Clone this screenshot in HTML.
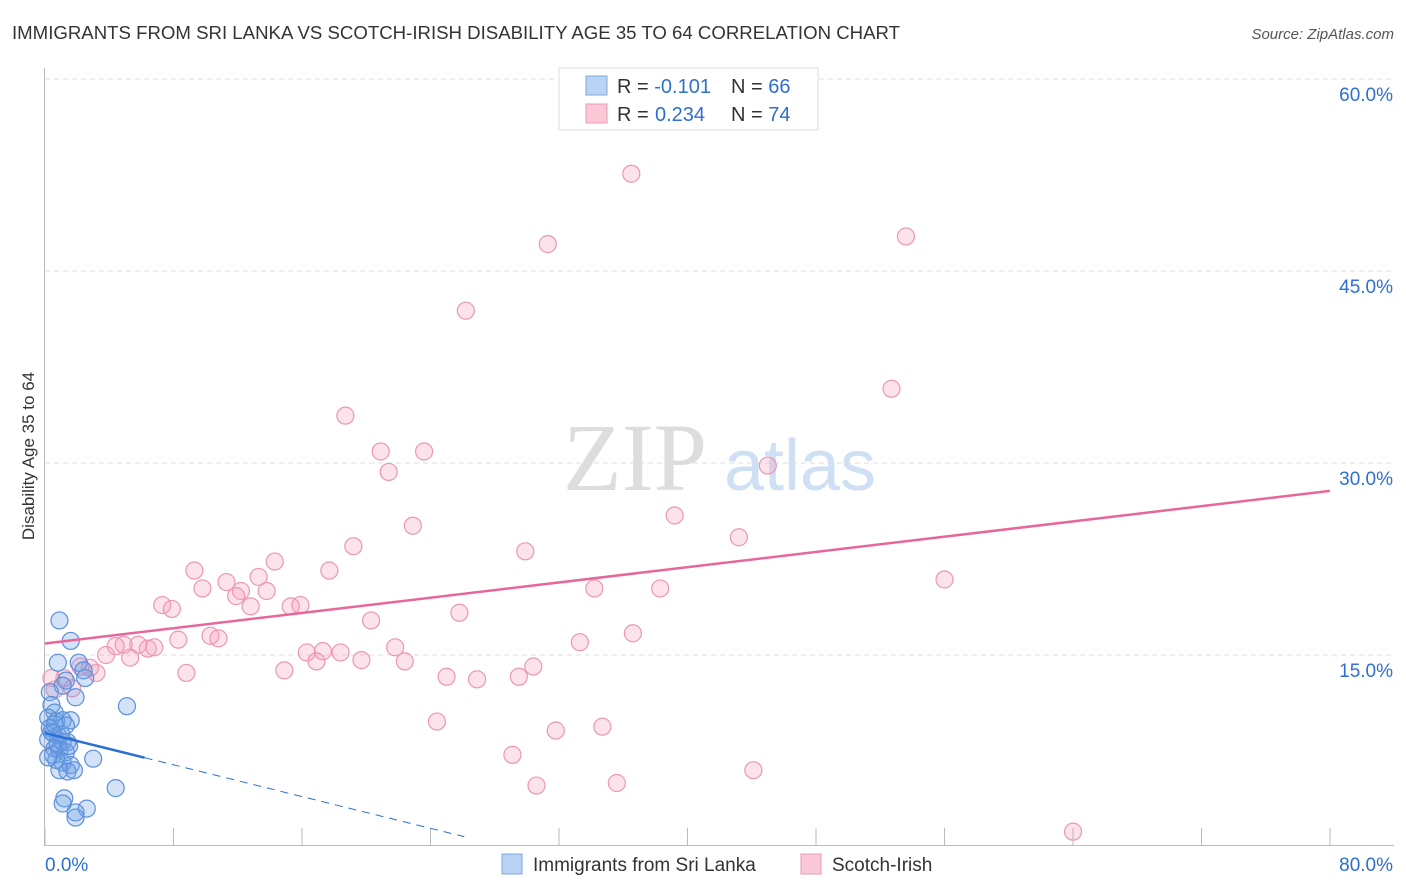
<!DOCTYPE html>
<html><head><meta charset="utf-8"><style>
body{margin:0;background:#fff;font-family:"Liberation Sans",sans-serif}
svg{display:block}
</style></head><body>
<svg id="c" width="1406" height="892" xmlns="http://www.w3.org/2000/svg">
<text x="12" y="39" font-size="18" fill="#333" textLength="888" lengthAdjust="spacingAndGlyphs">IMMIGRANTS FROM SRI LANKA VS SCOTCH-IRISH DISABILITY AGE 35 TO 64 CORRELATION CHART</text>
<text x="1394" y="39" font-size="15" fill="#555" text-anchor="end" font-style="italic">Source: ZipAtlas.com</text>
<text x="34" y="456" font-size="17" fill="#333" text-anchor="middle" transform="rotate(-90 34 456)">Disability Age 35 to 64</text>
<g><text x="635" y="490" font-size="96" fill="#ddd" font-family="Liberation Serif,serif" text-anchor="middle">ZIP</text><text x="800" y="490" font-size="72" fill="#cfe0f5" text-anchor="middle">atlas</text></g>
<g id="grid"></g><g id="axes"></g><g id="pts"></g><g id="lines"></g>
<g>
<rect x="559" y="68" width="259" height="62" fill="#fff" stroke="#ddd"/>
<rect x="586" y="76" width="21" height="19" fill="#b9d3f5" stroke="#7ea7e0"/>
<rect x="586" y="104" width="21" height="19" fill="#fac8d7" stroke="#ee9ab5"/>
<text x="617" y="93" font-size="20" fill="#333">R = <tspan fill="#2f6fd0">-0.101</tspan><tspan x="731">N = </tspan><tspan fill="#2f6fd0">66</tspan></text>
<text x="617" y="121" font-size="20" fill="#333">R = <tspan x="655" fill="#2f6fd0">0.234</tspan><tspan x="731">N = </tspan><tspan fill="#2f6fd0">74</tspan></text>
</g>
<g>
<rect x="502" y="854" width="20" height="20" fill="#b9d3f5" stroke="#7ea7e0"/>
<text x="533" y="871" font-size="19" fill="#333">Immigrants from Sri Lanka</text>
<rect x="801" y="854" width="20" height="20" fill="#fac8d7" stroke="#ee9ab5"/>
<text x="832" y="871" font-size="19" fill="#333">Scotch-Irish</text>
</g>
</svg>
<script>
const yTicks=[15,30,45,60];
const yTickLabels=["15.0%","30.0%","45.0%","60.0%"];
const xTicks=[0,8,16,24,32,40,48,56,64,72,80];
const xEndLabels=["0.0%","80.0%"];
const blueX=[0.9,1.6,0.8,2.1,2.4,2.5,1.3,1.1,1.9,5.1,0.3,0.4,0.6,0.2,0.7,1.1,1.6,1.3,0.3,0.5,0.8,0.2,1.1,1.4,0.6,0.9,1.3,0.5,0.7,1.1,1.6,0.9,1.4,1.8,3.0,4.4,1.2,1.1,2.6,1.9,1.9,0.4,0.8,0.2,1.0,0.6,1.5];
const blueY=[17.7,16.1,14.4,14.4,13.8,13.2,13.0,12.6,11.7,11.0,12.1,11.1,10.5,10.1,9.8,9.9,9.9,9.5,9.3,8.9,8.7,8.4,8.2,8.2,7.7,7.6,7.4,7.2,6.8,6.6,6.4,6.0,5.9,6.0,6.9,4.6,3.8,3.4,3.0,2.7,2.3,9.0,8.0,7.0,8.8,9.6,7.9];
const pinkX=[36.5,31.3,53.6,26.2,52.7,18.7,20.9,23.6,21.4,45.0,22.9,39.2,29.9,43.2,19.2,14.3,9.3,17.7,13.3,11.3,56.0,34.2,38.3,9.8,12.2,13.8,11.9,12.8,7.3,7.9,15.3,15.9,25.8,20.3,8.3,10.3,10.8,36.6,33.3,4.4,4.9,5.8,6.4,6.8,3.8,5.3,21.8,16.3,17.3,18.4,16.9,19.7,22.4,30.4,14.9,8.8,3.2,2.8,2.2,25.0,26.9,29.5,1.2,0.6,1.7,0.4,24.4,31.8,34.7,29.1,44.1,30.6,35.6,64.0];
const pinkY=[52.6,47.1,47.7,41.9,35.8,33.7,30.9,30.9,29.3,29.8,25.1,25.9,23.1,24.2,23.5,22.3,21.6,21.6,21.1,20.7,20.9,20.2,20.2,20.2,20.0,20.0,19.6,18.8,18.9,18.6,18.8,18.9,18.3,17.7,16.2,16.5,16.3,16.7,16.0,15.7,15.8,15.8,15.5,15.6,15.0,14.8,15.6,15.2,15.3,15.2,14.5,14.6,14.5,14.1,13.8,13.6,13.6,14.0,14.1,13.3,13.1,13.3,13.2,12.3,12.4,13.2,9.8,9.1,9.4,7.2,6.0,4.8,5.0,1.2];
const blueTrend=[8.9,-0.31];
const pinkTrend=[15.9,0.149];
const NS="http://www.w3.org/2000/svg";
const X=v=>45+v*(1330-45)/80;
const Y=v=>847-v*12.8;
function mk(tag,attrs,parent){const e=document.createElementNS(NS,tag);for(const k in attrs)e.setAttribute(k,attrs[k]);document.getElementById(parent).appendChild(e);return e;}
yTicks.forEach((t,i)=>{
 const g=mk('line',{x1:45,x2:1394,y1:Y(t),y2:Y(t),stroke:'#ddd','stroke-dasharray':'5,4'},'grid');
 
 
 const l=mk('text',{x:1393,y:Y(t)+22,'font-size':19,fill:'#2f6fd0','text-anchor':'end'},'axes');
 l.textContent=yTickLabels[i];
 
 
});
const topGrid=mk('line',{x1:45,x2:1394,y1:79,y2:79,stroke:'#ddd','stroke-dasharray':'5,4'},'grid');


const ya=mk('line',{x1:44.5,x2:44.5,y1:68,y2:846,stroke:'#bbb'},'axes');


const xa=mk('line',{x1:44,x2:1394,y1:845.5,y2:845.5,stroke:'#bbb'},'axes');


xTicks.forEach(t=>{
 const k=mk('line',{x1:X(t),x2:X(t),y1:828,y2:846,stroke:'#bbb'},'axes');
 
 
});
[[0,45,'start'],[80,1393,'end']].forEach((a,i)=>{
 const l=mk('text',{x:a[1],y:871,'font-size':19,fill:'#2f6fd0','text-anchor':a[2]},'axes');
 l.textContent=xEndLabels[i];
 
 
});
pinkX.forEach((v,i)=>{
 const c=mk('circle',{cx:X(v),cy:Y(pinkY[i]),r:8.5,fill:'rgba(244,160,188,0.3)',stroke:'#eb97b3','stroke-width':1.2},'pts');
 
 
});
blueX.forEach((v,i)=>{
 const c=mk('circle',{cx:X(v),cy:Y(blueY[i]),r:8.5,fill:'rgba(110,160,230,0.3)',stroke:'#5b90dc','stroke-width':1.2},'pts');
 
 
});
const pl=mk('line',{x1:X(0),y1:Y(pinkTrend[0]),x2:X(80),y2:Y(pinkTrend[0]+pinkTrend[1]*80),stroke:'#e8679a','stroke-width':2.5},'lines');


const bEnd=6.2, bDash=26.1;
const bl=mk('line',{x1:X(0),y1:Y(blueTrend[0]),x2:X(bEnd),y2:Y(blueTrend[0]+blueTrend[1]*bEnd),stroke:'#2a6fd6','stroke-width':2.5},'lines');


const bd=mk('line',{x1:X(bEnd),y1:Y(blueTrend[0]+blueTrend[1]*bEnd),x2:X(bDash),y2:Y(blueTrend[0]+blueTrend[1]*bDash),stroke:'#2a6fd6','stroke-width':1,'stroke-dasharray':'8,6'},'lines');


</script>
</body></html>
